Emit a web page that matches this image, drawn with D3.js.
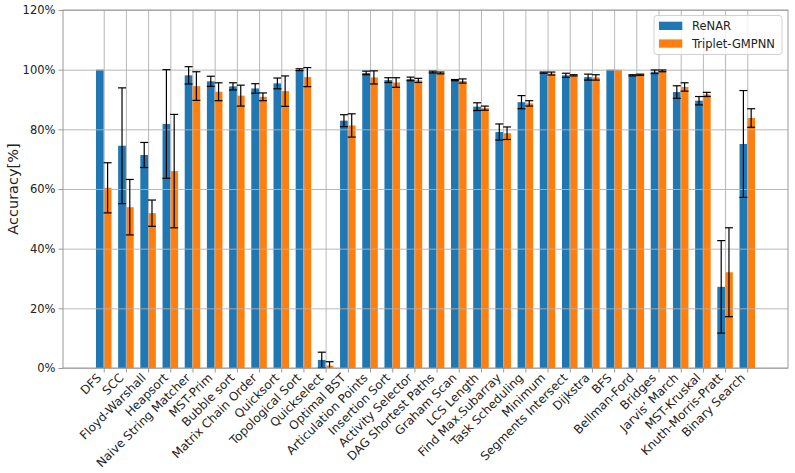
<!DOCTYPE html>
<html>
<head>
<meta charset="utf-8">
<script src="https://cdn.jsdelivr.net/npm/d3@7"></script>
<style>
  body { margin: 0; background: #fff; }
  svg { font-family: "DejaVu Sans", sans-serif; }
</style>
</head>
<body>
<div id="chart"></div>
<script>
// task names on the x axis
var tasks = ["DFS", "SCC", "Floyd-Warshall", "Heapsort", "Naive String Matcher", "MST-Prim",
  "Bubble sort", "Matrix Chain Order", "Quicksort", "Topological Sort", "Quickselect",
  "Optimal BST", "Articulation Points", "Insertion Sort", "Activity Selector",
  "DAG Shortest Paths", "Graham Scan", "LCS Length", "Find Max.Subarray", "Task Scheduling",
  "Minimum", "Segments Intersect", "Dijkstra", "BFS", "Bellman-Ford", "Bridges",
  "Jarvis\u2019 March", "MST-Kruskal", "Knuth-Morris-Pratt", "Binary Search"];

var seriesNames = ["ReNAR", "Triplet-GMPNN"];

var renarMean = [100, 74.5, 71.4, 81.8, 98.1, 96.1, 94.4, 93.7, 95.4, 100, 2.7, 82.9, 98.9, 96.5,
  96.9, 99.2, 96.5, 87.6, 79.1, 89.1, 99.0, 98.1, 97.5, 100, 98.1, 99.3, 92.5, 89.6, 27.2, 75.1];
var renarErr = [0, 19.4, 4.2, 18.2, 2.9, 1.7, 1.2, 1.6, 1.8, 0.3, 2.6, 2.0, 0.6, 0.8,
  0.6, 0.3, 0.2, 1.3, 2.7, 2.2, 0.2, 0.7, 1.0, 0, 0.2, 0.6, 2.1, 1.4, 15.5, 17.9];

var tripletMean = [60.4, 53.9, 51.9, 66.0, 94.5, 92.6, 91.3, 90.9, 92.8, 97.5, 0.8, 81.3, 97.4, 95.7,
  96.4, 98.9, 96.2, 87.1, 78.7, 88.7, 98.7, 98.1, 97.4, 100, 98.3, 99.6, 94.2, 91.7, 32.1, 83.8];
var tripletErr = [8.4, 9.3, 4.4, 19.0, 4.8, 3.0, 3.5, 1.3, 5.1, 3.2, 1.3, 3.9, 2.2, 1.6,
  0.7, 0.3, 0.7, 0.7, 2.1, 0.9, 0.5, 0.2, 0.9, 0, 0.2, 0.3, 1.4, 0.7, 14.9, 3.1];

var yTicks = [0, 20, 40, 60, 80, 100, 120];

var colors = ["#1f77b4", "#ff7f0e"];

// plot box
var margin = {top: 10, right: 7, bottom: 105, left: 63},
  width = 795 - margin.left - margin.right,
  height = 473 - margin.top - margin.bottom;

var barW = 0.35;
var pad = (tasks.length - 1 + 2 * barW) * 0.05;

var x = d3.scaleLinear()
  .domain([-barW - pad, tasks.length - 1 + barW + pad])
  .range([0, width]);
var y = d3.scaleLinear().domain([0, 120]).range([height, 0]);

var svg = d3.select("#chart").append("svg")
  .attr("width", 795)
  .attr("height", 473)
  .append("g")
  .attr("transform", "translate(" + margin.left + "," + margin.top + ")");

var series = [
  {name: seriesNames[0], mean: renarMean, err: renarErr, off: -barW / 2, color: colors[0]},
  {name: seriesNames[1], mean: tripletMean, err: tripletErr, off: barW / 2, color: colors[1]}
];

// bars
series.forEach(function(s) {
  svg.append("g").selectAll("rect")
    .data(tasks)
    .enter().append("rect")
    .attr("x", function(d, i) { return x(i + s.off - barW / 2); })
    .attr("width", x(barW) - x(0))
    .attr("y", function(d, i) { return y(s.mean[i]); })
    .attr("height", function(d, i) { return height - y(s.mean[i]); })
    .attr("fill", s.color);
});

// gridlines drawn above the bars, as matplotlib does
svg.append("g")
  .attr("class", "grid")
  .call(d3.axisLeft(y).tickValues(yTicks).tickSize(-width).tickFormat(""))
  .call(function(g) { g.select(".domain").remove(); })
  .selectAll("line").attr("stroke", "#b0b0b0").attr("stroke-width", 0.9);

svg.append("g")
  .attr("class", "grid")
  .attr("transform", "translate(0," + height + ")")
  .call(d3.axisBottom(x).tickValues(d3.range(tasks.length)).tickSize(-height).tickFormat(""))
  .call(function(g) { g.select(".domain").remove(); })
  .selectAll("line").attr("stroke", "#b0b0b0").attr("stroke-width", 0.9);

// error bars
var cap = 4;
series.forEach(function(s) {
  var g = svg.append("g").attr("stroke", "#000").attr("stroke-width", 1.2);
  tasks.forEach(function(t, i) {
    if (!s.err[i]) return;
    var cx = x(i + s.off);
    var lo = y(Math.max(s.mean[i] - s.err[i], 0)), hi = y(s.mean[i] + s.err[i]);
    g.append("line").attr("x1", cx).attr("x2", cx).attr("y1", lo).attr("y2", hi);
    g.append("line").attr("x1", cx - cap).attr("x2", cx + cap).attr("y1", hi).attr("y2", hi);
    if (s.mean[i] - s.err[i] >= 0)
      g.append("line").attr("x1", cx - cap).attr("x2", cx + cap).attr("y1", lo).attr("y2", lo);
  });
});

// axes (d3 puts font-family="sans-serif" on the axis group, so override it)
var yAxis = svg.append("g")
  .call(d3.axisLeft(y).tickValues(yTicks).tickSize(4.5).tickPadding(3)
    .tickFormat(function(d) { return d + "%"; }))
  .attr("font-family", "DejaVu Sans");
yAxis.selectAll("text").attr("font-size", 11.5).attr("fill", "#222");

var xAxis = svg.append("g")
  .attr("transform", "translate(0," + height + ")")
  .call(d3.axisBottom(x).tickValues(d3.range(tasks.length)).tickSize(4.5).tickFormat(function(d) { return tasks[d]; }))
  .attr("font-family", "DejaVu Sans");
xAxis.selectAll("text")
  .attr("font-size", 12)
  .attr("fill", "#222")
  .attr("text-anchor", "end")
  .attr("y", 0)
  .attr("dy", 0)
  .attr("transform", "translate(-2,10.5) rotate(-45)");

svg.selectAll(".domain").remove();
svg.selectAll(".tick line").filter(function() { return !this.parentNode.parentNode.classList.contains("grid"); })
  .attr("stroke", "#999");

// frame
svg.append("rect")
  .attr("width", width).attr("height", height)
  .attr("fill", "none").attr("stroke", "#999").attr("stroke-width", 1);

// y label
svg.append("text")
  .attr("transform", "translate(" + (-45.5) + "," + (height / 2) + ") rotate(-90)")
  .attr("text-anchor", "middle")
  .attr("font-size", 14.5)
  .attr("fill", "#222")
  .text("Accuracy[%]");

// legend
var lg = svg.append("g").attr("transform", "translate(" + (width - 134) + ",5.5)");
lg.append("rect")
  .attr("width", 128).attr("height", 39).attr("rx", 3)
  .attr("fill", "#fff").attr("fill-opacity", 0.8)
  .attr("stroke", "#d0d0d0");
series.forEach(function(s, k) {
  lg.append("rect").attr("x", 5).attr("y", 6.2 + k * 17.7)
    .attr("width", 23.3).attr("height", 8.3).attr("fill", s.color);
  lg.append("text").attr("x", 38).attr("y", 14.5 + k * 17.7)
    .attr("font-size", 11.5).attr("fill", "#222").text(s.name);
});
</script>
</body>
</html>
